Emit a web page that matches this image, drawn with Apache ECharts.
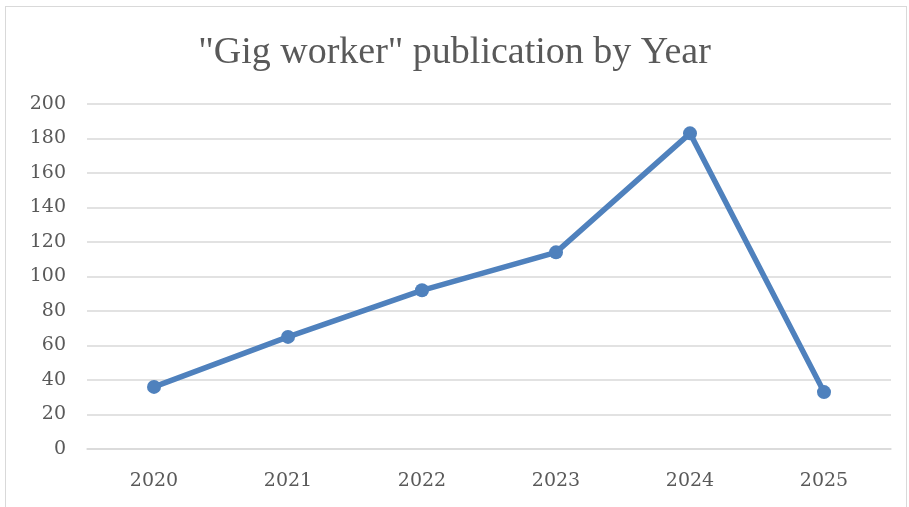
<!DOCTYPE html>
<html>
<head>
<meta charset="utf-8">
<script src="https://cdn.jsdelivr.net/npm/echarts@6/dist/echarts.min.js"></script>
<style>
  html, body { margin: 0; padding: 0; background: #fff; }
  #frame {
    position: absolute; left: 5px; top: 6px; width: 902px; height: 510px;
    border: 1px solid #d9d9d9; box-sizing: border-box;
  }
  #chart { position: absolute; left: 0; top: 0; width: 909px; height: 507px; }
</style>
</head>
<body>
<div id="frame"></div>
<div id="chart"></div>
<script>
const years = ["2020", "2021", "2022", "2023", "2024", "2025"];
const publications = [36, 65, 92, 114, 183, 33];
const titleText = '"Gig worker" publication by Year';

const myChart = echarts.init(document.getElementById("chart"));
const titleFont = "'Liberation Serif', serif";
const tickFont = "'DejaVu Serif', serif";

const option = {
  backgroundColor: "transparent",
  title: {
    text: titleText,
    left: "center",
    top: 29,
    textStyle: {
      fontFamily: titleFont,
      fontSize: 38,
      fontWeight: "normal",
      color: "#595959",
    },
  },
  grid: {
    left: 87,
    right: 18,
    top: 104,
    bottom: 58,
  },
  xAxis: {
    type: "category",
    data: years,
    boundaryGap: true,
    axisLine: { lineStyle: { color: "#d9d9d9", width: 1.5 } },
    axisTick: { show: false },
    axisLabel: {
      color: "#595959",
      fontFamily: tickFont,
      fontSize: 19,
      margin: 23,
    },
  },
  yAxis: {
    type: "value",
    min: 0,
    max: 200,
    interval: 20,
    axisLine: { show: false },
    axisTick: { show: false },
    splitLine: { lineStyle: { color: "#d9d9d9", width: 1.5 } },
    axisLabel: {
      color: "#595959",
      fontFamily: tickFont,
      fontSize: 19,
      margin: 21,
    },
  },
  series: [
    {
      type: "line",
      data: publications,
      symbol: "circle",
      symbolSize: 14,
      lineStyle: { color: "#4f81bd", width: 5.5 },
      itemStyle: { color: "#4f81bd" },
      animation: false,
    },
  ],
};
myChart.setOption(option);
</script>
</body>
</html>
